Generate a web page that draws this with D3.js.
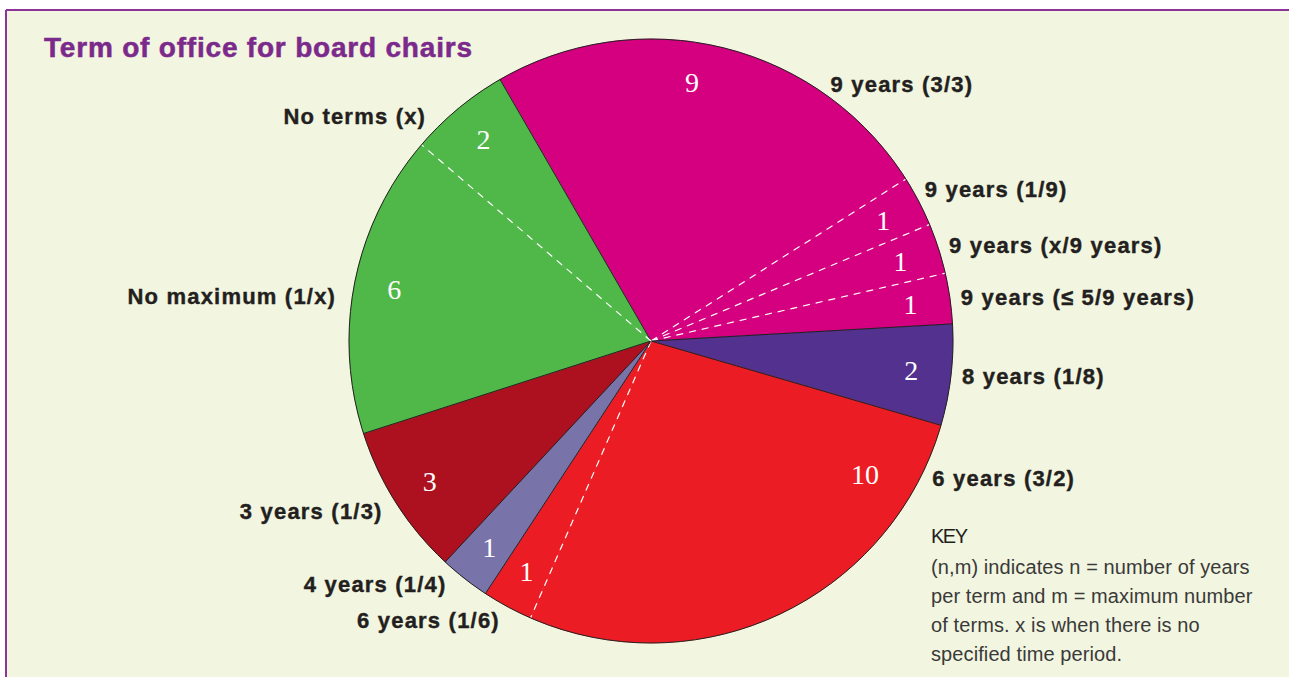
<!DOCTYPE html>
<html>
<head>
<meta charset="utf-8">
<script src="https://cdn.jsdelivr.net/npm/d3@7"></script>
<style>
  html, body { margin: 0; padding: 0; background: #ffffff; }
  svg { display: block; }
</style>
</head>
<body>
<div id="vis"></div>
<script>
// chart data
const categories = ["9 years (3/3)", "9 years (1/9)", "9 years (x/9 years)", "9 years (\u2264 5/9 years)",
                    "8 years (1/8)", "6 years (3/2)", "6 years (1/6)", "4 years (1/4)",
                    "3 years (1/3)", "No maximum (1/x)", "No terms (x)"];
const values = [9, 1, 1, 1, 2, 10, 1, 1, 3, 6, 2];
const groups = ["9y", "9y", "9y", "9y", "8y", "6y", "6y", "4y", "3y", "none", "none"];
const keyLines = ["(n,m) indicates n = number of years",
                  "per term and m = maximum number",
                  "of terms. x is when there is no",
                  "specified time period."];

const WIDTH = 1289;
const HEIGHT = 677;
const CX = 651;
const CY = 341;
const R = 302;
const START = -Math.PI / 6;

const color = d3.scaleOrdinal()
  .domain(["9y", "8y", "6y", "4y", "3y", "none"])
  .range(["#d5007f", "#53318f", "#ec1c24", "#7873a8", "#ad101f", "#50b848"]);

const DATA = categories.map((c, i) => ({ label: c, value: values[i], group: groups[i] }));

const pie = d3.pie().value(d => d.value).sort(null)
  .startAngle(START).endAngle(START + 2 * Math.PI);
const arcs = pie(DATA);
const arc = d3.arc().innerRadius(0).outerRadius(R);

// some labels sit away from the slice middle (degrees)
const valueNudge = { "9 years (3/3)": -4.8, "6 years (3/2)": -33 };
const labelAngle = { "9 years (3/3)": 35, "6 years (3/2)": 116, "9 years (1/9)": 61,
                     "4 years (1/4)": 220, "No maximum (1/x)": 278, "No terms (x)": 315 };

const svg = d3.select("#vis").append("svg")
  .attr("width", WIDTH)
  .attr("height", HEIGHT);

svg.append("rect")
  .attr("x", 7).attr("y", 11)
  .attr("width", WIDTH).attr("height", HEIGHT)
  .attr("fill", "#f2f5df");
svg.append("line").attr("x1", 6).attr("x2", 6).attr("y1", 10).attr("y2", HEIGHT)
  .attr("stroke", "#8c3499").attr("stroke-width", 2);
svg.append("line").attr("x1", 6).attr("x2", WIDTH).attr("y1", 10).attr("y2", 10)
  .attr("stroke", "#8c3499").attr("stroke-width", 2);

svg.append("text")
  .attr("x", 44).attr("y", 57)
  .attr("fill", "#7b2a8c")
  .attr("stroke", "#7b2a8c").attr("stroke-width", 0.5)
  .style("font-family", "'Liberation Sans', Arial, sans-serif")
  .style("font-weight", "bold")
  .style("font-size", "28px")
  .style("letter-spacing", "0.8px")
  .text("Term of office for board chairs");

const g = svg.append("g").attr("transform", `translate(${CX},${CY})`);

g.selectAll("path.slice")
  .data(arcs)
  .enter()
  .append("path")
    .attr("class", "slice")
    .attr("d", arc)
    .attr("fill", d => color(d.data.group))
    .attr("stroke", d => color(d.data.group))
    .attr("stroke-width", 0.5);

// radial boundaries: dark between groups, white dashed inside a group
arcs.forEach((d, i) => {
  const prev = arcs[(i - 1 + arcs.length) % arcs.length];
  const same = prev.data.group === d.data.group;
  const a = d.startAngle;
  g.append("line")
    .attr("x1", 0).attr("y1", 0)
    .attr("x2", R * Math.sin(a)).attr("y2", -R * Math.cos(a))
    .attr("stroke", same ? "#ffffff" : "#231f20")
    .attr("stroke-width", same ? 1.2 : 1)
    .attr("stroke-dasharray", same ? "7,6" : null);
});

g.append("circle").attr("r", R)
  .attr("fill", "none").attr("stroke", "#231f20").attr("stroke-width", 1);

// values inside
g.selectAll("text.val")
  .data(arcs)
  .enter()
  .append("text")
    .attr("class", "val")
    .attr("transform", d => {
      const a = (d.startAngle + d.endAngle) / 2 + (valueNudge[d.data.label] || 0) * Math.PI / 180;
      const r = d.data.label === "6 years (3/2)" ? 252 : 262;
      return `translate(${r * Math.sin(a)},${-r * Math.cos(a)})`;
    })
    .attr("text-anchor", "middle")
    .attr("dy", "0.35em")
    .attr("fill", "#ffffff")
    .style("font-family", "'Liberation Serif', 'Times New Roman', serif")
    .style("font-size", "28px")
    .text(d => d.value);

// category labels outside
g.selectAll("text.lab")
  .data(arcs)
  .enter()
  .append("text")
    .attr("class", "lab")
    .each(function (d) {
      const a = labelAngle[d.data.label] !== undefined
        ? labelAngle[d.data.label] * Math.PI / 180
        : (d.startAngle + d.endAngle) / 2;
      const right = Math.sin(a) > 0;
      const r = right ? 313 : 318;
      d3.select(this)
        .attr("x", r * Math.sin(a))
        .attr("y", -r * Math.cos(a))
        .attr("text-anchor", right ? "start" : "end");
    })
    .attr("dy", "0.35em")
    .attr("fill", "#231f20")
    .attr("stroke", "#231f20").attr("stroke-width", 0.4)
    .style("font-family", "'Liberation Sans', Arial, sans-serif")
    .style("font-weight", "bold")
    .style("font-size", "22px")
    .style("letter-spacing", "1.2px")
    .text(d => d.data.label);

// key
const key = svg.append("g").attr("transform", "translate(931,0)")
  .style("font-family", "'Liberation Sans', Arial, sans-serif")
  .attr("fill", "#3a3a3a");
key.append("text").attr("y", 543)
  .style("font-size", "20px").style("letter-spacing", "-1.5px")
  .attr("fill", "#231f20")
  .text("KEY");
key.selectAll("text.kl")
  .data(keyLines)
  .enter()
  .append("text")
    .attr("class", "kl")
    .attr("y", (d, i) => 574 + i * 29)
    .style("font-size", "20px")
    .style("letter-spacing", "0.1px")
    .text(d => d);
</script>
</body>
</html>
